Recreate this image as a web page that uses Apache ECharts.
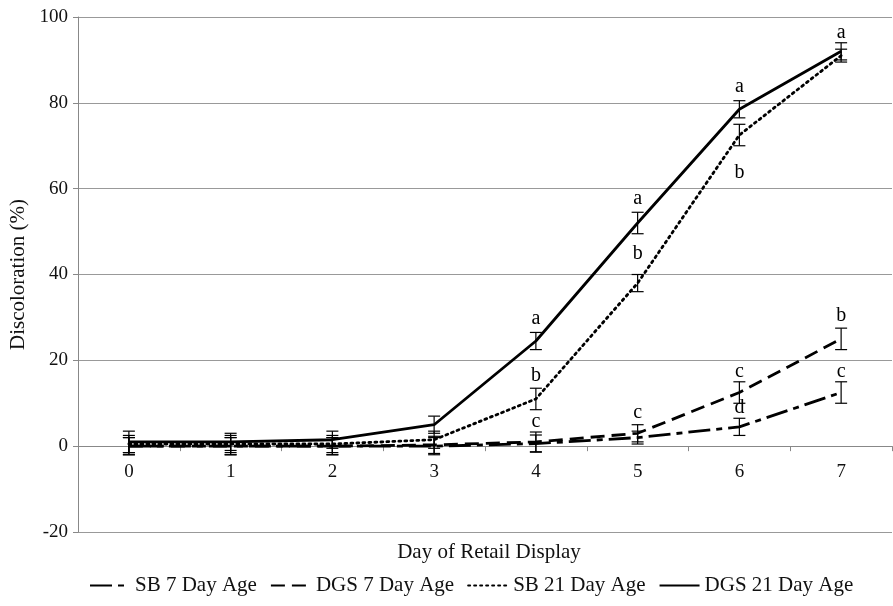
<!DOCTYPE html>
<html>
<head>
<meta charset="utf-8">
<script src="https://cdn.jsdelivr.net/npm/echarts@6/dist/echarts.min.js"></script>
<style>html,body{margin:0;padding:0;background:#fff}#c{width:893px;height:606px}</style>
</head>
<body>
<div id="c"></div>
<script>
var days = ['0','1','2','3','4','5','6','7'];
var yTicks = [-20, 0, 20, 40, 60, 80, 100];
var sb7 = [0, 0, 0, 0, 0.6, 2, 4.5, 12.5];
var dgs7 = [0, 0, 0, 0.3, 1, 3, 12.5, 25];
var sb21 = [0.5, 0.5, 0.5, 1.5, 11, 38, 72.5, 91];
var dgs21 = [1, 1, 1.5, 5, 24.5, 52, 78.5, 92];
var sb7Err = [2, 2, 2, 2, 2, 1.5, 2, 2.5];
var dgs7Err = [2, 2, 2, 2, 2.3, 2, 2.5, 2.5];
var sb21Err = [2, 2, 2, 2, 2.5, 2, 2.5, 1.5];
var dgs21Err = [2.5, 2, 2, 2, 2, 2.5, 2, 2];
var letterDay = [4, 4, 4, 5, 5, 5, 6, 6, 6, 6, 7, 7, 7];
var letterY = [29.8, 16.3, 5.6, 57.7, 44.9, 7.7, 83.7, 63.7, 17.4, 9, 96.3, 30.5, 17.4];
var letterText = ['a', 'b', 'c', 'a', 'b', 'c', 'a', 'b', 'c', 'd', 'a', 'b', 'c'];
var seriesNames = ['SB 7 Day Age', 'DGS 7 Day Age', 'SB 21 Day Age', 'DGS 21 Day Age'];
var xAxisTitle = 'Day of Retail Display';
var yAxisTitle = 'Discoloration (%)';

var FONT = '"Liberation Serif", "DejaVu Serif", serif';
var Y_MIN = -20, Y_MAX = 100;
var GRID = { left: 78, right: 1, top: 17, bottom: 74 };
var plotH = 606 - GRID.top - GRID.bottom;
var zeroOffset = -plotH * (0 - Y_MIN) / (Y_MAX - Y_MIN);

function errData(vals, errs) {
  return vals.map(function (v, i) { return [i, v - errs[i], v + errs[i]]; });
}
function errSeries(vals, errs) {
  return {
    type: 'custom',
    silent: true,
    z: 5,
    data: errData(vals, errs),
    encode: { x: 0, y: [1, 2] },
    renderItem: function (params, api) {
      var lo = api.coord([api.value(0), api.value(1)]);
      var hi = api.coord([api.value(0), api.value(2)]);
      var w = 6;
      var st = { stroke: '#000', lineWidth: 1.2 };
      return {
        type: 'group',
        children: [
          { type: 'line', shape: { x1: lo[0], y1: lo[1], x2: hi[0], y2: hi[1] }, style: st },
          { type: 'line', shape: { x1: lo[0] - w, y1: lo[1], x2: lo[0] + w, y2: lo[1] }, style: st },
          { type: 'line', shape: { x1: hi[0] - w, y1: hi[1], x2: hi[0] + w, y2: hi[1] }, style: st }
        ]
      };
    }
  };
}
function lineSeries(name, vals, type, cap) {
  return {
    name: name,
    type: 'line',
    data: vals,
    symbol: 'none',
    z: 3,
    lineStyle: { color: '#000', width: 2.8, type: type, cap: cap || 'butt' },
    itemStyle: { color: '#000' }
  };
}

var chart = echarts.init(document.getElementById('c'));
chart.setOption({
  animation: false,
  textStyle: { fontFamily: FONT },
  grid: { left: GRID.left, right: GRID.right, top: GRID.top, bottom: GRID.bottom, outerBoundsMode: 'none', containLabel: false },
  legend: {
    bottom: 5,
    left: 84,
    itemWidth: 40,
    itemHeight: 10,
    itemGap: 13,
    itemStyle: { opacity: 0 },
    textStyle: { fontFamily: FONT, fontSize: 21, color: '#111' },
    data: seriesNames
  },
  xAxis: {
    type: 'category',
    data: days,
    boundaryGap: true,
    offset: zeroOffset,
    name: xAxisTitle,
    nameLocation: 'middle',
    nameGap: 96,
    nameTextStyle: { fontFamily: FONT, fontSize: 21, color: '#111', padding: [0, 0, 0, 8] },
    axisLine: { onZero: false, lineStyle: { color: '#888', width: 1 } },
    axisTick: { show: true, alignWithLabel: false, length: 5, lineStyle: { color: '#888' } },
    axisLabel: { fontFamily: FONT, fontSize: 19, color: '#111', margin: 16 },
    splitLine: { show: false }
  },
  yAxis: {
    type: 'value',
    min: Y_MIN,
    max: Y_MAX,
    interval: 20,
    name: yAxisTitle,
    nameLocation: 'middle',
    nameGap: 42,
    nameTextStyle: { fontFamily: FONT, fontSize: 21, color: '#111' },
    axisLine: { show: true, lineStyle: { color: '#888', width: 1 } },
    axisTick: { show: true, length: 5, lineStyle: { color: '#888' } },
    axisLabel: {
      fontFamily: FONT, fontSize: 19, color: '#111', margin: 10,
      formatter: function (v) { return yTicks.indexOf(v) >= 0 ? String(v) : ''; }
    },
    splitLine: { show: true, lineStyle: { color: '#999', width: 1 } }
  },
  series: [
    lineSeries(seriesNames[0], sb7, [22, 6, 6, 6]),
    lineSeries(seriesNames[1], dgs7, [14, 7]),
    lineSeries(seriesNames[2], sb21, [2, 4], 'round'),
    lineSeries(seriesNames[3], dgs21, 'solid'),
    errSeries(sb7, sb7Err),
    errSeries(dgs7, dgs7Err),
    errSeries(sb21, sb21Err),
    errSeries(dgs21, dgs21Err),
    {
      type: 'scatter',
      silent: true,
      symbolSize: 0,
      z: 6,
      data: letterDay.map(function (d, i) { return [d, letterY[i], letterText[i]]; }),
      label: {
        show: true,
        position: 'inside',
        formatter: function (p) { return p.data[2]; },
        fontFamily: FONT,
        fontSize: 20,
        color: '#000',
        opacity: 1
      }
    }
  ]
});
</script>
</body>
</html>
